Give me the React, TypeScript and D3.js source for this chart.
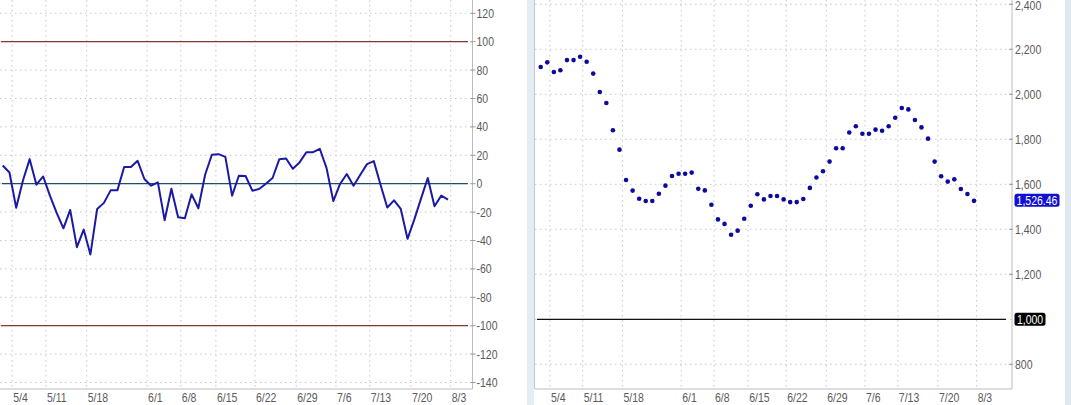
import React from "react";
import * as d3 from "d3";

const leftValues = [12.8, 7.9, -17, 2.3, 17.3, -0.7, 5.1, -8.4, -20.6, -31.4, -18.5, -44.7, -32.3, -49.8, -17.8, -13.5, -4.7, -4.7, 11.7, 11.7, 16.1, 3.3, -1.4, 0.9, -25.7, -3.5, -23.6, -24.3, -7.5, -17.3, 6.3, 20.4, 20.8, 18.9, -8.4, 5.6, 5.4, -4.9, -3.7, 0, 4, 17.3, 17.8, 10.5, 15, 22.2, 22.2, 24.6, 11, -12.2, -0.2, 6.8, -1.4, 6.3, 13.8, 15.9, -0.7, -16.8, -11.7, -17.8, -38.8, -25.3, -10.5, 4, -15.9, -8.4, -11.2];

const rightValues = [2121, 2142, 2099, 2107, 2152, 2152, 2167, 2145, 2092, 2010, 1961, 1840, 1754, 1619, 1572, 1536, 1526, 1526, 1558, 1594, 1637, 1647, 1647, 1652, 1580, 1573, 1509, 1444, 1424, 1376, 1394, 1447, 1505, 1556, 1533, 1548, 1548, 1533, 1521, 1521, 1535, 1584, 1630, 1658, 1701, 1760, 1760, 1830, 1858, 1825, 1825, 1843, 1838, 1858, 1896, 1939, 1933, 1886, 1853, 1803, 1701, 1636, 1612, 1622, 1579, 1557, 1526.46];

const dateTickIdx = [1.4, 6.4, 12.45, 21.4, 26.4, 31.6, 37.4, 43.5, 49.4, 54.4, 60.5, 66.4];
const dateTickLabels = ["5/4", "5/11", "5/18", "6/1", "6/8", "6/15", "6/22", "6/29", "7/6", "7/13", "7/20", "8/3"];

const leftYTicks = [120, 100, 80, 60, 40, 20, 0, -20, -40, -60, -80, -100, -120, -140];
const leftRefLevels = [100, -100];
const rightYTicks = [2400, 2200, 2000, 1800, 1600, 1400, 1200, 800];
const rightRefLevel = 1000;

const FONT = "'Liberation Sans Narrow', 'Liberation Sans', Arial, sans-serif";
const GRID = "#c8c8c8";
const LABEL = "#5a5a5a";
const SX = 0.84;

function T(props: { x: number; y: number; anchor?: string; fill?: string; children: React.ReactNode }) {
  const { x, y, anchor = "start", fill = LABEL, children } = props;
  return (
    <g transform={`translate(${x},${y}) scale(${SX},1)`}>
      <text x={0} y={0} dy="0.36em" textAnchor={anchor} fontSize={12.5} fontFamily={FONT} fill={fill}>
        {children}
      </text>
    </g>
  );
}

export default function App() {
  const n = leftValues.length;
  // Left panel
  const lx = d3.scaleLinear().domain([0, n - 1]).range([2.7, 448]);
  const ly = d3.scaleLinear().domain([100, -100]).range([41.7, 325.7]);
  const lLeft = 0, lRight = 472.5, bottom = 389;
  const line = d3.line<number>().x((_, i) => lx(i)).y((d) => ly(d));

  // Right panel
  const rx = d3.scaleLinear().domain([0, rightValues.length - 1]).range([540.7, 974]);
  const ry = d3.scaleLinear().domain([2000, 1400]).range([94.3, 229.3]);
  const rLeft = 535, rRight = 1012;
  const last = rightValues[rightValues.length - 1];
  const fmt = d3.format(",");
  const fmt2 = d3.format(",.2f");

  return (
    <svg width={1071} height={405} style={{ position: "absolute", left: 0, top: 0, background: "#fff" }}>
      {/* LEFT PANEL */}
      <g>
        {leftYTicks.map((t) => (
          <line key={"lg" + t} x1={lLeft} x2={lRight} y1={ly(t)} y2={ly(t)} stroke={GRID} strokeDasharray="1.5,3.5" />
        ))}
        {dateTickIdx.map((t, i) => (
          <line key={"lv" + i} x1={lx(t)} x2={lx(t)} y1={0} y2={bottom} stroke={GRID} strokeDasharray="1.5,3.5" />
        ))}
        {leftRefLevels.map((v) => (
          <line key={"ref" + v} x1={1} x2={468} y1={ly(v)} y2={ly(v)} stroke="#843a30" strokeWidth={1.3} />
        ))}
        <line x1={2} x2={468} y1={ly(0)} y2={ly(0)} stroke="#1d4e6b" strokeWidth={1.2} />
        <path d={line(leftValues) || ""} fill="none" stroke="#1a1aa6" strokeWidth={2} strokeLinejoin="round" />
        <line x1={lRight} x2={lRight} y1={0} y2={bottom} stroke="#bdbdbd" />
        <line x1={lLeft} x2={lRight} y1={bottom} y2={bottom} stroke="#bdbdbd" />
        {leftYTicks.map((t) => (
          <g key={"lt" + t}>
            <line x1={lRight - 2} x2={lRight + 3} y1={ly(t)} y2={ly(t)} stroke="#9a9a9a" />
            <T x={lRight + 4} y={ly(t)}>{t < 0 ? "-" + Math.abs(t) : String(t)}</T>
          </g>
        ))}
        {dateTickIdx.map((t, i) => (
          <T key={"lx" + i} x={lx(t) + 1} y={397}>{dateTickLabels[i]}</T>
        ))}
      </g>

      {/* separator */}
      <rect x={527} y={0} width={7} height={405} fill="#e6edf2" />
      <line x1={534.5} x2={534.5} y1={0} y2={bottom} stroke="#c4c9cc" />
      <rect x={1065} y={0} width={6} height={405} fill="#e1e9ef" />

      {/* RIGHT PANEL */}
      <g>
        {rightYTicks.concat([rightRefLevel]).map((t) => (
          <line key={"rg" + t} x1={rLeft} x2={rRight} y1={ry(t)} y2={ry(t)} stroke={GRID} strokeDasharray="1.5,3.5" />
        ))}
        {dateTickIdx.map((t, i) => (
          <line key={"rv" + i} x1={rx(t)} x2={rx(t)} y1={0} y2={bottom} stroke={GRID} strokeDasharray="1.5,3.5" />
        ))}
        <line x1={537} x2={1006} y1={ry(rightRefLevel)} y2={ry(rightRefLevel)} stroke="#111" strokeWidth={1.2} />
        {rightValues.map((v, i) => (
          <circle key={"d" + i} cx={rx(i)} cy={ry(v)} r={2.3} fill="#0a0aa0" />
        ))}
        <line x1={rRight} x2={rRight} y1={0} y2={bottom} stroke="#bdbdbd" />
        <line x1={rLeft} x2={rRight} y1={bottom} y2={bottom} stroke="#bdbdbd" />
        {rightYTicks.map((t) => (
          <g key={"rt" + t}>
            <line x1={rRight - 3} x2={rRight + 1} y1={ry(t)} y2={ry(t)} stroke="#9a9a9a" />
            <T x={rRight + 3} y={Math.max(ry(t), 5.5)}>{fmt(t)}</T>
          </g>
        ))}
        <rect x={1014.5} y={ry(rightRefLevel) - 6.5} width={31} height={13} rx={2.5} fill="#000" />
        <T x={1030} y={ry(rightRefLevel)} anchor="middle" fill="#fff">{fmt(rightRefLevel)}</T>
        <rect x={1014.5} y={ry(last) - 7} width={45} height={13} rx={2.5} fill="#1010d0" />
        <T x={1037} y={ry(last) - 0.5} anchor="middle" fill="#fff">{fmt2(last)}</T>
        {dateTickIdx.map((t, i) => (
          <T key={"rx" + i} x={rx(t) + 1} y={397}>{dateTickLabels[i]}</T>
        ))}
      </g>
    </svg>
  );
}
